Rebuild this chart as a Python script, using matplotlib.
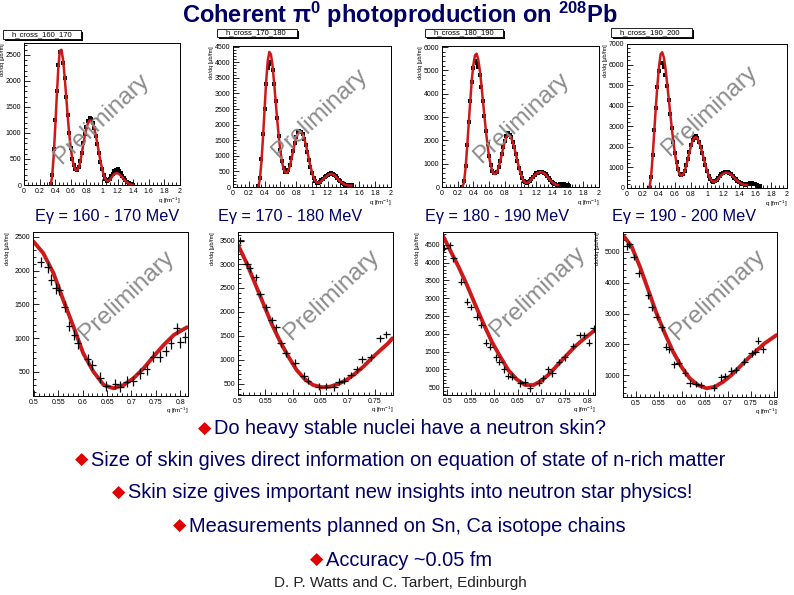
import matplotlib
matplotlib.use('Agg')
import matplotlib.pyplot as plt
from matplotlib.patches import Rectangle
from matplotlib.ticker import MultipleLocator, FuncFormatter

plt.rcParams['font.family'] = ['Liberation Sans', 'DejaVu Sans']
plt.rcParams['mathtext.fontset'] = 'custom'
plt.rcParams['mathtext.rm'] = 'Liberation Sans'
plt.rcParams['mathtext.bf'] = 'Liberation Sans:bold'
plt.rcParams['mathtext.it'] = 'Liberation Sans:italic'

W, H = 794, 595
NAVY = '#000066'
RED = '#cc1a1a'

# ---- top row: full q range, per energy bin ----
energies = ['160 - 170', '170 - 180', '180 - 190', '190 - 200']
hist_names = ['h_cross_160_170', 'h_cross_170_180', 'h_cross_180_190', 'h_cross_190_200']

q1 = [0.34, 0.36, 0.38, 0.40, 0.42, 0.44, 0.46, 0.48, 0.50, 0.52, 0.54, 0.56, 0.58, 0.60,
      0.62, 0.64, 0.66, 0.68, 0.70, 0.72, 0.74, 0.76, 0.78, 0.80, 0.82, 0.84, 0.86, 0.88,
      0.90, 0.92, 0.94, 0.96, 0.98, 1.00, 1.02, 1.04, 1.06, 1.08, 1.10, 1.12, 1.14, 1.16,
      1.18, 1.20, 1.22, 1.24, 1.26, 1.28, 1.30, 1.32, 1.34, 1.36, 1.38, 1.40]
fit1 = [0, 150, 550, 1100, 1700, 2250, 2580, 2600, 2420, 2100, 1720, 1330, 980, 700, 490,
        360, 290, 280, 330, 440, 600, 780, 950, 1090, 1190, 1240, 1240, 1190, 1100, 960,
        800, 630, 460, 320, 200, 120, 80, 75, 100, 140, 180, 210, 225, 225, 210, 180, 145,
        110, 75, 50, 30, 15, 5, 0]
data1 = [20, 200, 700, 1250, 1800, 2300, 2550, 2560, 2350, 2050, 1700, 1350, 1000, 720, 500,
         380, 300, 290, 340, 460, 620, 800, 980, 1120, 1230, 1280, 1270, 1200, 1090, 950,
         790, 610, 450, 300, 190, 110, 80, 90, 120, 170, 220, 260, 290, 300, 270, 230, 180,
         130, 90, 60, 40, 20, 10, 5]

q2 = [0.32, 0.34, 0.36, 0.38, 0.40, 0.42, 0.44, 0.46, 0.48, 0.50, 0.52, 0.54, 0.56, 0.58,
      0.60, 0.62, 0.64, 0.66, 0.68, 0.70, 0.72, 0.74, 0.76, 0.78, 0.80, 0.82, 0.84, 0.86,
      0.88, 0.90, 0.92, 0.94, 0.96, 0.98, 1.00, 1.02, 1.04, 1.06, 1.08, 1.10, 1.12, 1.14,
      1.16, 1.18, 1.20, 1.22, 1.24, 1.26, 1.28, 1.30, 1.32, 1.34, 1.36, 1.38, 1.40, 1.42,
      1.44, 1.46, 1.48, 1.50]
fit2 = [0, 250, 800, 1600, 2500, 3400, 4050, 4330, 4250, 3900, 3350, 2750, 2150, 1600, 1150,
        800, 580, 470, 450, 520, 680, 900, 1140, 1380, 1570, 1700, 1760, 1760, 1700, 1570,
        1380, 1150, 900, 670, 470, 310, 200, 140, 130, 150, 190, 240, 290, 340, 380, 410,
        420, 410, 380, 330, 280, 220, 170, 130, 100, 75, 60, 50, 45, 45]
data2 = [30, 300, 900, 1700, 2500, 3300, 3800, 3950, 4000, 3750, 3300, 2750, 2200, 1650, 1180,
         820, 600, 480, 470, 540, 700, 920, 1150, 1400, 1600, 1750, 1800, 1770, 1690, 1550,
         1350, 1120, 880, 650, 450, 300, 190, 140, 140, 170, 210, 260, 310, 360, 400, 430,
         440, 420, 390, 340, 290, 230, 180, 140, 110, 80, 70, 60, 55, 60]

q3 = [0.26, 0.28, 0.30, 0.32, 0.34, 0.36, 0.38, 0.40, 0.42, 0.44, 0.46, 0.48, 0.50, 0.52,
      0.54, 0.56, 0.58, 0.60, 0.62, 0.64, 0.66, 0.68, 0.70, 0.72, 0.74, 0.76, 0.78, 0.80,
      0.82, 0.84, 0.86, 0.88, 0.90, 0.92, 0.94, 0.96, 0.98, 1.00, 1.02, 1.04, 1.06, 1.08,
      1.10, 1.12, 1.14, 1.16, 1.18, 1.20, 1.22, 1.24, 1.26, 1.28, 1.30, 1.32, 1.34, 1.36,
      1.38, 1.40, 1.42, 1.44, 1.46, 1.48, 1.50, 1.52, 1.54, 1.56, 1.58, 1.60, 1.62]
fit3 = [0, 200, 800, 1700, 2700, 3700, 4600, 5250, 5650, 5720, 5500, 5050, 4450, 3750, 3050,
        2400, 1800, 1300, 930, 690, 570, 560, 640, 820, 1080, 1380, 1680, 1950, 2140, 2230,
        2220, 2120, 1940, 1700, 1420, 1130, 850, 600, 400, 260, 190, 170, 200, 260, 340,
        420, 500, 560, 610, 630, 640, 630, 590, 530, 450, 370, 290, 220, 160, 120, 90, 80]
data3 = [10, 250, 900, 1800, 2800, 3700, 4500, 5100, 5400, 5300, 5150, 4800, 4300, 3700, 3050,
         2400, 1850, 1350, 950, 700, 600, 580, 660, 850, 1100, 1400, 1700, 1980, 2200, 2300,
         2250, 2150, 1950, 1700, 1400, 1100, 820, 580, 390, 260, 200, 180, 210, 270, 350,
         440, 520, 580, 620, 650, 660, 640, 600, 540, 460, 380, 300, 230, 170, 130, 100, 90,
         110, 120, 100, 110, 90, 80, 60]

q4 = [0.28, 0.30, 0.32, 0.34, 0.36, 0.38, 0.40, 0.42, 0.44, 0.46, 0.48, 0.50, 0.52, 0.54,
      0.56, 0.58, 0.60, 0.62, 0.64, 0.66, 0.68, 0.70, 0.72, 0.74, 0.76, 0.78, 0.80, 0.82,
      0.84, 0.86, 0.88, 0.90, 0.92, 0.94, 0.96, 0.98, 1.00, 1.02, 1.04, 1.06, 1.08, 1.10,
      1.12, 1.14, 1.16, 1.18, 1.20, 1.22, 1.24, 1.26, 1.28, 1.30, 1.32, 1.34, 1.36, 1.38,
      1.40, 1.42, 1.44, 1.46, 1.48, 1.50, 1.52, 1.54, 1.56, 1.58, 1.60, 1.62, 1.64, 1.66]
fit4 = [0, 500, 1500, 2700, 3900, 5000, 5900, 6500, 6600, 6350, 5850, 5150, 4400, 3650, 2900,
        2250, 1650, 1200, 850, 650, 590, 650, 820, 1080, 1400, 1730, 2050, 2300, 2440, 2470,
        2400, 2230, 2000, 1720, 1420, 1120, 850, 620, 450, 340, 300, 310, 370, 450, 540,
        620, 690, 730, 745, 740, 710, 650, 580, 500, 420, 340, 280, 230, 190, 165, 150, 150]
data4 = [20, 550, 1600, 2800, 3900, 4900, 5700, 6100, 6100, 5900, 5500, 4950, 4300, 3600, 2900,
         2250, 1700, 1250, 900, 700, 640, 680, 850, 1100, 1400, 1750, 2100, 2350, 2500, 2550,
         2450, 2250, 2000, 1700, 1400, 1100, 830, 600, 430, 330, 300, 320, 390, 480, 570,
         660, 740, 790, 800, 780, 740, 670, 590, 500, 420, 350, 290, 240, 200, 180, 170, 190,
         210, 230, 220, 200, 180, 150, 120, 100]

top_q = [q1, q2, q3, q4]
top_fit = [fit1, fit2, fit3, fit4]
top_data = [data1, data2, data3, data4]

# ---- bottom row: zoom on the first minimum ----
fq5 = [0.499, 0.519, 0.540, 0.560, 0.581, 0.601, 0.622, 0.643, 0.663, 0.684, 0.704, 0.725,
       0.745, 0.766, 0.787, 0.814]
fy5 = [2433, 2261, 1964, 1568, 1172, 777, 504, 307, 258, 307, 406, 555, 727, 900, 1049, 1163]
dq5 = [0.514, 0.528, 0.535, 0.545, 0.552, 0.563, 0.572, 0.583, 0.590, 0.610, 0.620, 0.636,
       0.648, 0.667, 0.677, 0.690, 0.704, 0.718, 0.731, 0.745, 0.758, 0.770, 0.781, 0.793,
       0.800, 0.810]
dy5 = [2128, 2048, 1865, 1741, 1717, 1469, 1182, 1049, 926, 688, 603, 415, 292, 322, 282, 356,
       366, 481, 540, 727, 727, 811, 926, 1148, 940, 1015]

fq6 = [0.500, 0.516, 0.531, 0.546, 0.561, 0.577, 0.592, 0.607, 0.622, 0.637, 0.653, 0.668,
       0.683, 0.698, 0.713, 0.729, 0.744, 0.759, 0.774, 0.782]
fy6 = [3396, 3014, 2597, 2181, 1764, 1382, 1069, 792, 598, 479, 431, 444, 500, 583, 708, 861,
       1035, 1194, 1348, 1452]
dq6 = [0.504, 0.516, 0.521, 0.532, 0.540, 0.551, 0.562, 0.570, 0.579, 0.588, 0.604, 0.620,
       0.627, 0.647, 0.661, 0.675, 0.685, 0.694, 0.706, 0.717, 0.727, 0.742, 0.759, 0.771]
dy6 = [3486, 3000, 2910, 2722, 2375, 2097, 1833, 1681, 1348, 1140, 944, 673, 569, 444, 444,
       431, 548, 569, 688, 806, 1015, 1056, 1452, 1535]

fq7 = [0.491, 0.506, 0.524, 0.542, 0.560, 0.577, 0.595, 0.613, 0.630, 0.648, 0.666, 0.684,
       0.701, 0.719, 0.737, 0.755, 0.772, 0.790, 0.815]
fy7 = [4754, 4359, 3890, 3373, 2810, 2294, 1777, 1354, 979, 716, 556, 556, 678, 885, 1148,
       1401, 1636, 1842, 2106]
dq7 = [0.494, 0.505, 0.513, 0.530, 0.542, 0.550, 0.563, 0.573, 0.583, 0.591, 0.605, 0.611,
       0.621, 0.630, 0.639, 0.656, 0.665, 0.676, 0.696, 0.704, 0.715, 0.724, 0.738, 0.750,
       0.768, 0.782, 0.791, 0.802, 0.812]
dy7 = [4407, 4500, 4125, 3467, 2904, 2745, 2482, 2247, 1749, 1636, 1336, 1213, 998, 810, 791,
       603, 650, 463, 622, 744, 998, 885, 1213, 1336, 1655, 1965, 1965, 1749, 2153]

fq8 = [0.475, 0.491, 0.509, 0.527, 0.545, 0.563, 0.581, 0.599, 0.617, 0.635, 0.654, 0.672,
       0.690, 0.708, 0.726, 0.744, 0.762, 0.780, 0.806]
fy8 = [5491, 5166, 4516, 3760, 3003, 2354, 1756, 1270, 893, 675, 568, 620, 783, 1000, 1270,
       1542, 1789, 2029, 2299]
dq8 = [0.480, 0.486, 0.495, 0.506, 0.526, 0.534, 0.545, 0.556, 0.565, 0.573, 0.584, 0.593,
       0.607, 0.617, 0.630, 0.641, 0.670, 0.686, 0.694, 0.707, 0.717, 0.736, 0.752, 0.760,
       0.766, 0.777]
dy8 = [5188, 5253, 4841, 4302, 3597, 3198, 2893, 2549, 1919, 1834, 1347, 1399, 1075, 730, 708,
       675, 588, 925, 968, 1140, 1162, 1432, 1705, 1757, 2114, 1834]

bot_fq = [fq5, fq6, fq7, fq8]
bot_fy = [fy5, fy6, fy7, fy8]
bot_dq = [dq5, dq6, dq7, dq8]
bot_dy = [dy5, dy6, dy7, dy8]
bot_yerr = [80, 70, 90, 110]

bullets = ['Do heavy stable nuclei have a neutron skin?',
           'Size of skin gives direct information on equation of state of n-rich matter',
           'Skin size gives important new insights into neutron star physics!',
           'Measurements planned on Sn, Ca isotope chains',
           'Accuracy ~0.05 fm']


def add_axes_px(fig, l, t, r, b):
    return fig.add_axes([l / W, 1 - b / H, (r - l) / W, (b - t) / H])


def style_axes(ax, xmaj, xmin, ymaj, ymin):
    ax.xaxis.set_major_locator(MultipleLocator(xmaj))
    ax.xaxis.set_minor_locator(MultipleLocator(xmin))
    ax.yaxis.set_major_locator(MultipleLocator(ymaj))
    ax.yaxis.set_minor_locator(MultipleLocator(ymin))
    ax.xaxis.set_major_formatter(FuncFormatter(lambda v, p: '%g' % round(v, 3)))
    ax.tick_params(which='both', direction='in', top=False, right=False,
                   labelsize=5, pad=2, width=0.6)
    ax.tick_params(which='major', length=4)
    ax.tick_params(which='minor', length=2)
    for s in ax.spines.values():
        s.set_linewidth(0.7)


def watermark(fig, cx, cy):
    fig.text(cx / W, 1 - cy / H, 'Preliminary', rotation=43, ha='center', va='center',
             rotation_mode='anchor', fontsize=17.5, color='#8c8c8c')


fig = plt.figure(figsize=(W / 100, H / 100), dpi=100)

# top row
top_boxes = [(24, 43, 180, 185), (233, 46, 391, 187), (442, 46, 599, 187), (627, 44, 787, 188)]
top_ylim = [2730, 4520, 6050, 7000]
top_ymaj = [500, 500, 1000, 1000]
top_ymin = [100, 100, 200, 200]
title_boxes = [(3, 30, 81, 39), (217, 29, 297, 37), (425, 29, 503, 37), (611, 28, 692, 37)]
top_marks = [(102, 119), (320, 114), (522, 118), (710, 111)]
egam_x = [35, 218, 425, 612]

for i in range(4):
    ax = add_axes_px(fig, *top_boxes[i])
    q = top_q[i]
    ax.plot(q, top_data[i], 's', color='black', ms=2.2, mew=0)
    ax.plot(q[:len(top_fit[i])], top_fit[i], color=RED, lw=1.8)
    ax.set_xlim(0, 2)
    ax.set_ylim(0, top_ylim[i])
    style_axes(ax, 0.2, 0.05, top_ymaj[i], top_ymin[i])
    ax.text(-0.12, 1.0, 'dσ/dq [μb/fm]', transform=ax.transAxes, rotation=90,
            ha='right', va='top', fontsize=4)
    ax.text(1.0, -0.075, 'q [fm$^{-1}$]', transform=ax.transAxes, ha='right', va='top',
            fontsize=4.5)
    l, t, r, b = title_boxes[i]
    fig.add_artist(Rectangle(((l + 1.5) / W, 1 - (b + 1.5) / H), (r - l) / W, (b - t) / H,
                             transform=fig.transFigure, fc='black', ec='none'))
    fig.add_artist(Rectangle((l / W, 1 - b / H), (r - l) / W, (b - t) / H,
                             transform=fig.transFigure, fc='white', ec='black', lw=0.6))
    fig.text((l + 8) / W, 1 - (t + b) / 2 / H, hist_names[i], fontsize=5.5, va='center')
    watermark(fig, *top_marks[i])
    fig.text(egam_x[i] / W, 1 - 216 / H, 'Eγ = %s MeV' % energies[i], fontsize=11.7,
             color=NAVY, va='center')

# bottom row
bot_boxes = [(33, 232, 188, 396), (238, 232, 393, 395), (443, 232, 595, 395), (623, 232, 777, 397)]
bot_xlim = [(0.498, 0.816), (0.5, 0.783), (0.491, 0.815), (0.472, 0.807)]
bot_ylim = [(144, 2574), (270, 3667), (275, 4866), (286, 5650)]
bot_ymaj = [500, 500, 500, 1000]
bot_ymin = [100, 100, 100, 200]
bot_marks = [(127, 296), (332, 295), (538, 292), (718, 295)]

for i in range(4):
    ax = add_axes_px(fig, *bot_boxes[i])
    ax.plot(bot_fq[i], bot_fy[i], color=RED, lw=2.8, solid_capstyle='round')
    ax.errorbar(bot_dq[i], bot_dy[i], xerr=0.007, yerr=bot_yerr[i], fmt='none',
                ecolor='black', elinewidth=0.9, capsize=0)
    ax.set_xlim(*bot_xlim[i])
    ax.set_ylim(*bot_ylim[i])
    style_axes(ax, 0.05, 0.01, bot_ymaj[i], bot_ymin[i])
    ax.text(-0.15, 1.0, 'dσ/dq [μb/fm]', transform=ax.transAxes, rotation=90,
            ha='right', va='top', fontsize=4)
    ax.text(1.0, -0.06, 'q [fm$^{-1}$]', transform=ax.transAxes, ha='right', va='top',
            fontsize=4.5)
    watermark(fig, *bot_marks[i])

# title
fig.text(400 / W, 1 - 15 / H, r'Coherent π$^\mathbf{0}$ photoproduction on $^\mathbf{208}$Pb',
         ha='center', va='center', fontsize=17, fontweight='bold', color=NAVY)

# bullet list
bullet_pos = [(198, 429), (75, 460), (112, 493), (173, 526), (310, 560)]
for text, (x, y) in zip(bullets, bullet_pos):
    fig.text(x / W, 1 - y / H, '◆', family='DejaVu Sans', fontsize=12.5, color='#e00000',
             ha='left', va='center')
    fig.text((x + 16) / W, 1 - y / H, text, fontsize=14.4, color=NAVY, ha='left', va='center')

fig.text(400 / W, 1 - 583 / H, 'D. P. Watts and C. Tarbert, Edinburgh', fontsize=11,
         color='#222222', ha='center', va='center')

fig.savefig('out.png', dpi=100)
